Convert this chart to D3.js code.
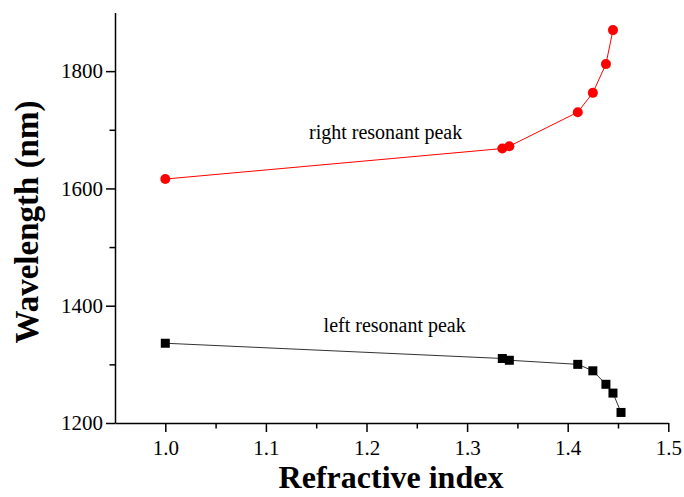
<!DOCTYPE html>
<html>
<head>
<meta charset="utf-8">
<script src="https://cdn.jsdelivr.net/npm/d3@7"></script>
<style>
  body { margin: 0; background: #fff; }
  svg { display: block; font-family: "Liberation Serif", "Times New Roman", serif; }
  .axis path, .axis line { stroke: #000; stroke-width: 1.5; }
  .axis text { font-family: "Liberation Serif", "Times New Roman", serif; font-size: 21px; fill: #000; }
</style>
</head>
<body>
<svg class="chart"></svg>
<script>
var width = 684;
var height = 497;

// x positions: refractive index
var leftIndex = [1.0, 1.335, 1.342, 1.41, 1.425, 1.438, 1.445, 1.453];
var leftWave = [1336, 1310, 1307, 1300, 1289, 1266, 1251, 1218];

var rightIndex = [1.0, 1.335, 1.342, 1.41, 1.425, 1.438, 1.445];
var rightWave = [1616, 1668, 1672, 1730, 1763, 1812, 1870];

var xTicks = [1.0, 1.1, 1.2, 1.3, 1.4, 1.5];
var xMinor = [1.05, 1.15, 1.25, 1.35, 1.45];
var yTicks = [1200, 1400, 1600, 1800];
var yMinor = [1300, 1500, 1700];

var labels = [
    { text: "right resonant peak", x: 1.219, y: 1684 },
    { text: "left resonant peak", x: 1.228, y: 1355 }
];

var x = d3.scaleLinear().domain([0.95, 1.5]).range([115, 668.3]);
var y = d3.scaleLinear().domain([1200, 1900]).range([423, 12.5]);

var svg = d3.select(".chart")
    .attr("width", width)
    .attr("height", height);

// minor ticks first (no labels)
svg.append("g")
    .attr("class", "axis")
    .attr("transform", "translate(0," + y(1200) + ")")
    .call(d3.axisBottom(x).tickValues(xMinor).tickSize(5.5).tickFormat(""))
    .select(".domain").remove();

svg.append("g")
    .attr("class", "axis")
    .attr("transform", "translate(" + x(0.95) + ",0)")
    .call(d3.axisLeft(y).tickValues(yMinor).tickSize(5.5).tickFormat(""))
    .select(".domain").remove();

svg.append("g")
    .attr("class", "axis")
    .attr("transform", "translate(0," + y(1200) + ")")
    .call(d3.axisBottom(x).tickValues(xTicks).tickSize(9).tickSizeOuter(0).tickPadding(8).tickFormat(d3.format(".1f")));

svg.append("g")
    .attr("class", "axis")
    .attr("transform", "translate(" + x(0.95) + ",0)")
    .call(d3.axisLeft(y).tickValues(yTicks).tickSize(9).tickSizeOuter(0).tickPadding(3).tickFormat(d3.format("d")));

// axis titles
svg.append("text")
    .attr("x", 391)
    .attr("y", 488)
    .attr("text-anchor", "middle")
    .style("font-size", "32px")
    .style("font-weight", "bold")
    .text("Refractive index");

svg.append("text")
    .attr("transform", "translate(38,222) rotate(-90)")
    .attr("text-anchor", "middle")
    .style("font-size", "33px")
    .style("font-weight", "bold")
    .text("Wavelength (nm)");

var line = d3.line()
    .x(function(d) { return x(d[0]); })
    .y(function(d) { return y(d[1]); });

var leftData = d3.zip(leftIndex, leftWave);
var rightData = d3.zip(rightIndex, rightWave);

svg.append("path")
    .datum(leftData)
    .attr("d", line)
    .attr("fill", "none")
    .attr("stroke", "#333")
    .attr("stroke-width", 1);

svg.append("path")
    .datum(rightData)
    .attr("d", line)
    .attr("fill", "none")
    .attr("stroke", "#ff0000")
    .attr("stroke-width", 1);

svg.selectAll("rect.left")
    .data(leftData)
    .enter()
    .append("rect")
    .attr("class", "left")
    .attr("x", function(d) { return x(d[0]) - 4.5; })
    .attr("y", function(d) { return y(d[1]) - 4.5; })
    .attr("width", 9)
    .attr("height", 9)
    .attr("fill", "#000");

svg.selectAll("circle.right")
    .data(rightData)
    .enter()
    .append("circle")
    .attr("class", "right")
    .attr("cx", function(d) { return x(d[0]); })
    .attr("cy", function(d) { return y(d[1]); })
    .attr("r", 5)
    .attr("fill", "#ff0000");

svg.selectAll("text.label")
    .data(labels)
    .enter()
    .append("text")
    .attr("class", "label")
    .attr("x", function(d) { return x(d.x); })
    .attr("y", function(d) { return y(d.y); })
    .attr("text-anchor", "middle")
    .style("font-size", "20px")
    .text(function(d) { return d.text; });
</script>
</body>
</html>
